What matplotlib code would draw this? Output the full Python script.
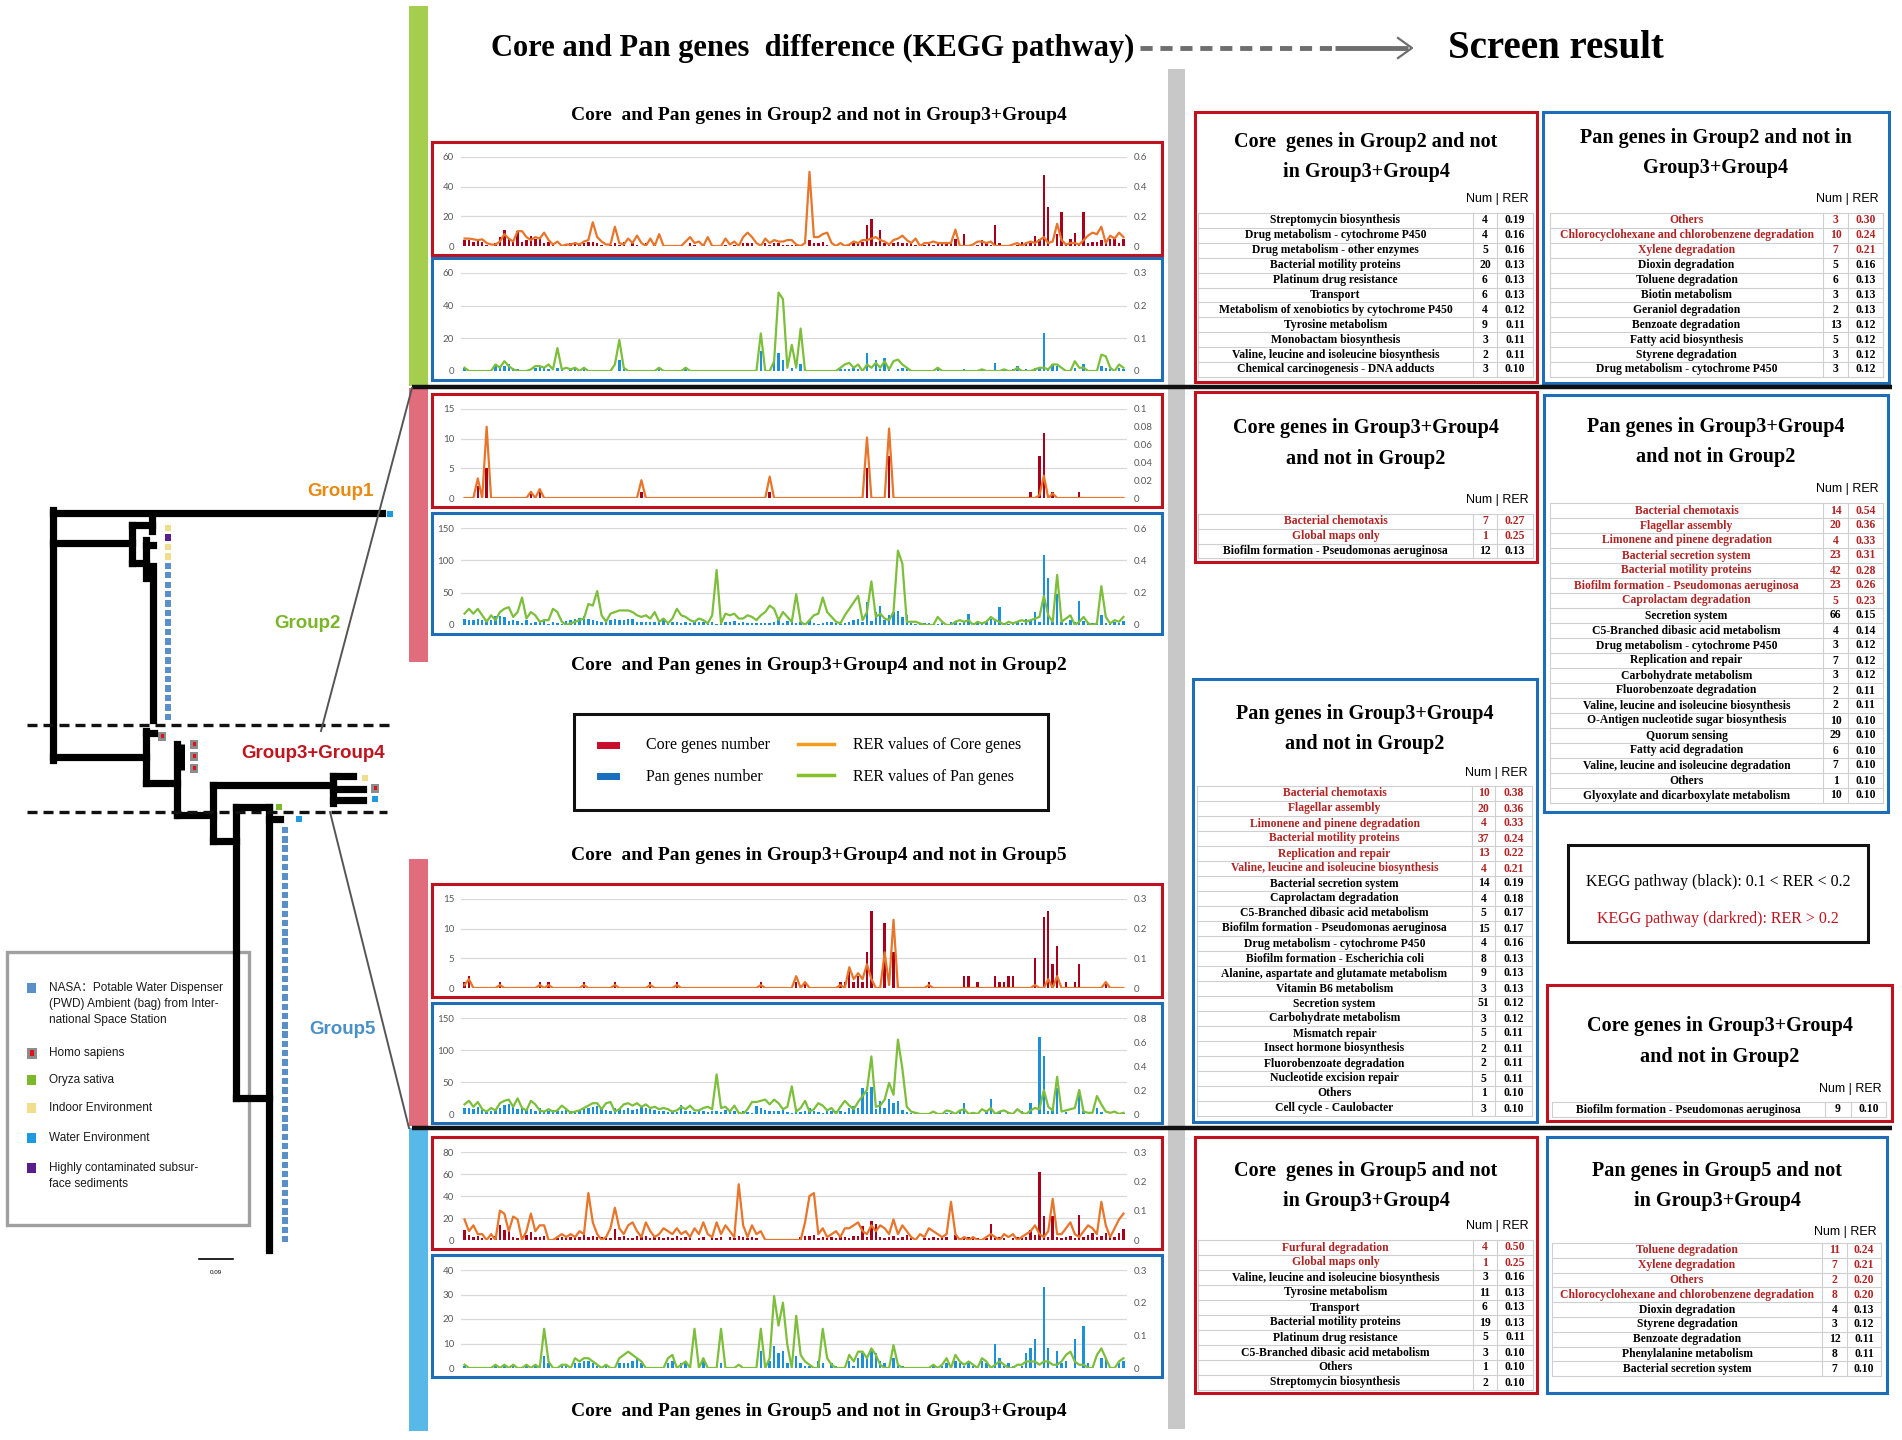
import matplotlib
matplotlib.use('Agg')
import matplotlib.pyplot as plt
from matplotlib.patches import Rectangle
import numpy as np

W, H = 1902, 1440
SERIF = ['Liberation Serif', 'DejaVu Serif']
SANS = ['Liberation Sans', 'DejaVu Sans', 'Noto Sans CJK SC']
TICKF = ['Lato', 'DejaVu Sans']
RED_TXT = '#B22222'

# ---------------- chart data (150 KEGG pathways per chart) ----------------
# RER values are stored in thousandths
g2_core_num = [4,4,3,4,3,1,0,2,6,11,5,4,10,3,4, 7,5,6,2,3,1,0,1,1,2,3,2,2,3,3,
               2,1,0,1,2,1,3,0,2,1,0,2,0,2,0, 0,0,0,0,0,0,2,1,0,1,0,0,0,0,1,
               0,1,0,2,2,2,0,0,2,1,2,2,1,1,1, 1,0,0,4,2,2,3,1,0,1,0,1,1,2,2,
               3,14,18,3,11,2,1,2,3,2,2,2,1,0,1, 2,1,2,2,2,2,5,0,8,0,0,1,4,2,1,
               14,2,1,1,0,1,3,2,2,7,5,48,26,0,8, 23,1,5,9,1,23,2,3,3,4,3,5,6,2,5]
g2_core_rer = [50,50,45,40,45,20,10,10,30,80,50,30,100,100,60, 40,60,50,90,40,10,30,0,10,10,20,10,30,40,160,
               60,30,10,10,130,20,10,50,20,70,20,0,50,0,80, 0,0,0,0,0,30,60,20,30,0,60,0,0,0,50,
               10,30,0,60,90,60,20,0,50,20,40,30,30,40,40, 10,0,20,500,60,60,80,90,20,0,20,0,10,30,20,
               40,40,50,60,40,30,10,40,50,70,40,20,50,0,20, 20,30,20,20,20,20,110,0,0,0,10,30,30,20,30,
               0,0,0,0,10,20,0,20,30,20,40,60,20,30,150, 40,10,20,20,10,40,70,90,80,130,20,70,50,90,60]
g2_pan_num = [2,0,0,0,0,0,0,3,2,3,4,2,1,0,0, 0,2,3,2,1,0,2,1,0,1,1,0,1,0,0,
              0,0,0,0,0,7,1,0,0,0,0,0,0,0,1, 0,0,0,0,0,1,0,0,0,0,0,0,0,0,0,
              0,0,0,0,0,0,0,12,0,0,6,11,7,0,2, 0,4,0,0,0,0,0,0,0,0,1,1,1,2,1,
              0,11,0,7,1,8,2,0,1,2,1,0,0,0,0, 0,0,2,0,0,0,0,0,1,0,0,0,1,0,0,
              5,0,1,0,1,3,0,1,0,2,2,23,2,4,3, 0,0,0,2,0,4,0,0,0,3,2,1,0,2,1]
g2_pan_rer = [10,0,0,0,0,0,0,20,10,30,15,5,0,0,0, 5,15,15,10,20,5,70,5,10,5,10,0,10,0,0,
              0,0,0,0,20,95,10,0,0,0,0,0,0,0,10, 0,0,0,0,0,10,0,0,0,0,0,0,0,0,0,
              0,0,0,0,0,0,0,115,0,0,30,240,220,10,80, 10,130,0,0,0,0,0,0,0,0,10,20,25,10,20,
              0,20,10,25,10,30,5,30,35,20,10,0,0,0,0, 0,0,10,0,0,0,0,0,0,0,0,0,5,0,0,
              0,0,5,0,0,10,0,0,0,5,10,10,5,20,20, 10,0,0,30,10,10,0,0,0,50,45,10,0,20,10]

g34_core_num = [0,0,0,2,0,5,0,0,0,0,0,0,0,0,0, 1,0,1,0,0,0,0,0,0,0,0,0,0,0,0,
                0,0,0,0,0,0,0,0,0,0,1,0,0,0,0, 0,0,0,0,0,0,0,0,0,0,0,0,0,0,0,
                0,0,0,0,0,0,0,0,0,1,0,0,0,0,0, 0,0,0,0,0,0,0,0,0,0,0,0,0,0,0,
                0,5,0,0,0,0,7,0,0,0,0,0,0,0,0, 0,0,0,0,0,0,0,0,0,0,0,0,0,0,0,
                0,0,0,0,0,0,0,0,1,0,7,11,0,1,0, 0,0,0,0,1,0,0,0,0,0,0,0,0,0,0]
g34_core_rer = [0,0,0,22,0,80,0,0,0,0,0,0,0,0,0, 7,0,10,0,0,0,0,0,0,0,0,0,0,0,0,
                0,0,0,0,0,0,0,0,0,0,20,0,0,0,0, 0,0,0,0,0,0,0,0,0,0,0,0,0,0,0,
                0,0,0,0,0,0,0,0,0,24,0,0,0,0,0, 0,0,0,0,0,0,0,0,0,0,0,0,0,0,0,
                0,68,0,0,0,0,78,0,0,0,0,0,0,0,0, 0,0,0,0,0,0,0,0,0,0,0,0,0,0,0,
                0,0,0,0,0,0,0,0,0,0,3,25,0,5,0, 0,0,0,0,0,0,0,0,0,0,0,0,0,0,0]
g34_pan_num = [9,8,7,9,8,5,7,14,14,12,6,8,6,3,8, 3,5,4,6,2,5,3,2,6,8,10,11,14,9,7,
               6,4,9,7,9,8,7,9,9,5,5,4,5,5,5, 9,4,4,5,3,5,3,4,4,5,4,4,2,5,5,
               4,6,3,5,3,3,3,3,3,3,4,9,3,6,5, 3,5,3,8,3,2,3,4,5,3,2,3,4,8,10,
               5,35,6,20,30,8,15,20,22,13,16,3,2,3,3, 3,2,2,3,2,4,6,3,4,17,3,5,3,6,9,
               7,28,3,2,2,5,3,9,7,20,5,108,73,4,48, 5,3,8,4,37,6,5,3,4,15,3,5,4,3,6]
g34_pan_rer = [70,100,70,100,60,20,60,30,80,100,110,50,80,170,40, 80,60,20,30,30,100,80,20,0,10,20,30,40,130,120,
               210,60,20,70,80,90,90,90,80,60,50,60,40,80,20, 40,10,40,100,60,50,30,20,40,30,10,60,340,10,70,
               60,70,40,40,60,50,30,60,80,120,100,30,80,50,20, 190,20,0,30,60,70,170,80,50,20,10,60,100,140,180,
               30,80,270,50,70,40,30,80,460,380,20,20,20,10,0, 0,0,50,20,0,0,20,30,20,30,0,20,10,20,50,
               30,20,0,20,10,20,30,20,30,40,50,180,60,20,310, 20,40,60,0,20,50,10,0,10,240,50,10,30,20,50]

g34n5_core_num = [1,2,0,0,0,0,0,0,1,0,0,0,0,0,0, 0,0,1,0,1,0,0,0,0,0,0,0,1,0,0,
                  0,0,0,0,1,0,0,0,0,0,0,0,1,0,0, 0,0,0,1,0,0,0,0,0,0,0,0,0,0,0,
                  0,0,0,0,0,0,0,1,0,0,0,0,0,0,0, 1,0,1,0,0,0,0,0,0,0,1,1,3,1,2,
                  1,6,13,0,0,11,0,6,0,0,0,0,0,0,0, 1,0,0,0,0,0,0,0,2,2,0,1,0,0,0,
                  2,1,1,2,2,0,0,0,0,5,0,12,13,4,7, 0,1,0,1,4,0,0,0,0,0,1,0,0,0,0]
g34n5_core_rer = [10,30,0,0,0,0,0,0,10,0,0,0,0,0,0, 0,0,10,0,10,0,0,0,0,0,0,0,10,0,0,
                  0,0,0,0,10,0,0,0,0,0,0,0,10,0,0, 0,0,0,10,0,0,0,0,0,0,0,0,0,0,0,
                  0,0,0,0,0,0,0,10,0,0,0,0,0,0,0, 40,0,20,0,0,0,0,0,0,0,10,0,70,30,50,
                  30,80,30,0,0,120,10,230,0,0,0,0,0,0,0, 10,0,0,0,0,0,0,0,0,0,0,0,0,0,0,
                  0,0,0,0,0,0,0,0,0,10,0,0,30,0,40, 0,0,0,0,0,0,0,0,0,0,20,0,0,0,0]
g34n5_pan_num = [10,9,8,11,6,3,4,7,10,14,16,13,8,9,6, 8,5,9,3,4,6,5,4,7,4,3,6,8,10,11,
                 12,9,6,4,9,8,6,10,7,8,12,9,8,6,5, 4,3,4,3,14,5,4,3,5,4,3,5,4,3,6,
                 4,5,3,4,3,2,12,10,6,5,5,4,6,3,2, 8,3,5,10,4,3,2,6,4,5,5,3,9,12,10,
                 40,35,42,8,20,10,24,17,21,6,3,2,1,0,1, 0,0,0,0,2,1,0,6,17,0,3,0,0,5,24,
                 0,3,0,2,0,0,5,2,17,0,120,90,5,10,40, 0,3,0,0,36,5,0,0,10,3,0,0,0,1,2]
g34n5_pan_rer = [80,110,60,100,40,20,50,30,90,110,120,60,130,50,30, 110,80,30,20,40,20,30,70,40,10,20,30,50,70,90,
                 90,40,90,100,20,40,80,90,70,90,60,80,50,60,40, 50,40,20,30,60,40,70,30,30,50,60,40,330,50,60,
                 20,70,10,0,40,100,100,110,120,80,120,90,40,60,230, 20,50,110,20,40,90,70,30,50,0,60,110,70,40,100,
                 150,200,480,60,70,120,260,160,620,380,60,20,10,0,0, 0,20,0,0,30,20,0,30,40,0,10,0,40,20,50,
                 0,20,30,10,0,40,10,0,30,50,40,200,60,30,310, 20,30,40,50,200,20,10,10,150,80,20,10,20,0,10]

g5_core_num = [9,5,3,4,2,0,2,4,14,9,10,3,2,4,5, 7,3,3,4,0,0,2,3,2,3,4,3,5,3,4,
               3,3,3,2,10,3,4,2,2,4,3,4,2,3,3, 2,3,2,4,2,3,2,0,2,3,0,3,2,3,0,
               3,2,4,3,2,3,2,0,0,0,0,0,0,0,0, 0,3,4,4,5,2,3,2,3,2,3,3,2,4,4,
               13,3,17,15,3,2,3,4,2,3,5,2,0,0,2, 2,3,2,4,3,0,5,2,3,3,2,2,0,2,15,
               2,3,2,0,2,3,2,3,9,5,62,22,3,22,3, 2,3,4,2,23,3,5,6,3,4,6,5,3,6,10]
g5_core_rer = [70,30,50,20,20,0,20,0,100,90,30,80,70,0,30, 90,30,50,50,0,0,10,20,10,20,10,30,20,160,60,
               20,0,10,40,110,40,20,50,60,30,10,60,30,10,20, 40,30,20,40,20,30,10,40,20,60,20,10,60,20,50,
               30,10,190,50,10,50,20,30,0,0,0,0,0,0,0, 0,0,60,150,160,20,40,10,20,30,10,40,40,50,60,
               30,20,50,30,50,40,20,70,20,50,30,10,0,20,10, 40,30,20,10,20,130,20,0,10,0,10,0,0,10,20,
               10,0,20,10,20,0,10,20,30,50,20,10,30,140,20, 20,40,60,20,10,30,50,40,20,130,50,10,40,70,90]
g5_pan_num = [1,0,0,0,0,0,0,1,0,1,0,1,0,0,1, 0,1,0,5,2,0,0,1,1,0,2,2,3,3,2,
              1,0,1,0,0,2,2,2,3,4,2,0,0,0,0, 0,2,3,0,2,2,0,0,0,3,0,0,0,2,0,
              0,0,0,0,0,0,0,7,0,3,9,6,7,2,0, 5,2,1,1,0,3,2,0,2,1,0,0,3,1,4,
              6,4,7,6,3,2,0,4,1,1,0,0,0,0,0, 0,1,0,1,2,0,3,2,1,2,1,0,3,2,0,
              10,4,1,2,1,0,1,6,8,12,0,33,8,0,7, 2,3,0,12,0,17,2,0,0,4,4,0,0,2,3]
g5_pan_rer = [10,0,0,0,0,0,0,10,0,10,0,10,0,0,10, 0,10,0,120,20,0,0,10,10,0,30,20,30,30,20,
              10,0,10,0,0,30,40,50,40,30,20,0,0,0,0, 0,30,40,0,10,20,0,120,0,30,0,0,0,120,0,
              0,0,10,0,0,0,0,120,0,30,220,130,200,70,0, 160,40,20,10,0,0,120,30,10,0,0,0,40,20,50,
              50,30,60,40,10,0,0,70,10,0,0,0,0,0,0, 0,10,0,10,30,0,40,20,10,20,10,0,30,20,0,
              10,20,10,0,0,10,10,20,20,20,10,20,20,10,10, 20,40,50,20,10,10,0,0,40,60,30,0,0,20,30]

# ---------------- table data ----------------
tA_names = ['Streptomycin biosynthesis', 'Drug metabolism - cytochrome P450', 'Drug metabolism - other enzymes',
            'Bacterial motility proteins', 'Platinum drug resistance', 'Transport',
            'Metabolism of xenobiotics by cytochrome P450', 'Tyrosine metabolism', 'Monobactam biosynthesis',
            'Valine, leucine and isoleucine biosynthesis', 'Chemical carcinogenesis - DNA adducts']
tA_num = [4, 4, 5, 20, 6, 6, 4, 9, 3, 2, 3]
tA_rer = [0.19, 0.16, 0.16, 0.13, 0.13, 0.13, 0.12, 0.11, 0.11, 0.11, 0.10]

tB_names = ['Others', 'Chlorocyclohexane and chlorobenzene degradation', 'Xylene degradation', 'Dioxin degradation',
            'Toluene degradation', 'Biotin metabolism', 'Geraniol degradation', 'Benzoate degradation',
            'Fatty acid biosynthesis', 'Styrene degradation', 'Drug metabolism - cytochrome P450']
tB_num = [3, 10, 7, 5, 6, 3, 2, 13, 5, 3, 3]
tB_rer = [0.30, 0.24, 0.21, 0.16, 0.13, 0.13, 0.13, 0.12, 0.12, 0.12, 0.12]

tC_names = ['Bacterial chemotaxis', 'Global maps only', 'Biofilm formation - Pseudomonas aeruginosa']
tC_num = [7, 1, 12]
tC_rer = [0.27, 0.25, 0.13]

tD_names = ['Bacterial chemotaxis', 'Flagellar assembly', 'Limonene and pinene degradation',
            'Bacterial secretion system', 'Bacterial motility proteins', 'Biofilm formation - Pseudomonas aeruginosa',
            'Caprolactam degradation', 'Secretion system', 'C5-Branched dibasic acid metabolism',
            'Drug metabolism - cytochrome P450', 'Replication and repair', 'Carbohydrate metabolism',
            'Fluorobenzoate degradation', 'Valine, leucine and isoleucine biosynthesis',
            'O-Antigen nucleotide sugar biosynthesis', 'Quorum sensing', 'Fatty acid degradation',
            'Valine, leucine and isoleucine degradation', 'Others', 'Glyoxylate and dicarboxylate metabolism']
tD_num = [14, 20, 4, 23, 42, 23, 5, 66, 4, 3, 7, 3, 2, 2, 10, 29, 6, 7, 1, 10]
tD_rer = [0.54, 0.36, 0.33, 0.31, 0.28, 0.26, 0.23, 0.15, 0.14, 0.12, 0.12, 0.12, 0.11, 0.11,
          0.10, 0.10, 0.10, 0.10, 0.10, 0.10]

tE_names = ['Bacterial chemotaxis', 'Flagellar assembly', 'Limonene and pinene degradation',
            'Bacterial motility proteins', 'Replication and repair', 'Valine, leucine and isoleucine biosynthesis',
            'Bacterial secretion system', 'Caprolactam degradation', 'C5-Branched dibasic acid metabolism',
            'Biofilm formation - Pseudomonas aeruginosa', 'Drug metabolism - cytochrome P450',
            'Biofilm formation - Escherichia coli', 'Alanine, aspartate and glutamate metabolism',
            'Vitamin B6 metabolism', 'Secretion system', 'Carbohydrate metabolism', 'Mismatch repair',
            'Insect hormone biosynthesis', 'Fluorobenzoate degradation', 'Nucleotide excision repair',
            'Others', 'Cell cycle - Caulobacter']
tE_num = [10, 20, 4, 37, 13, 4, 14, 4, 5, 15, 4, 8, 9, 3, 51, 3, 5, 2, 2, 5, 1, 3]
tE_rer = [0.38, 0.36, 0.33, 0.24, 0.22, 0.21, 0.19, 0.18, 0.17, 0.17, 0.16, 0.13, 0.13, 0.13,
          0.12, 0.12, 0.11, 0.11, 0.11, 0.11, 0.10, 0.10]

tG_names = ['Biofilm formation - Pseudomonas aeruginosa']
tG_num = [9]
tG_rer = [0.10]

tH_names = ['Furfural degradation', 'Global maps only', 'Valine, leucine and isoleucine biosynthesis',
            'Tyrosine metabolism', 'Transport', 'Bacterial motility proteins', 'Platinum drug resistance',
            'C5-Branched dibasic acid metabolism', 'Others', 'Streptomycin biosynthesis']
tH_num = [4, 1, 3, 11, 6, 19, 5, 3, 1, 2]
tH_rer = [0.50, 0.25, 0.16, 0.13, 0.13, 0.13, 0.11, 0.10, 0.10, 0.10]

tI_names = ['Toluene degradation', 'Xylene degradation', 'Others', 'Chlorocyclohexane and chlorobenzene degradation',
            'Dioxin degradation', 'Styrene degradation', 'Benzoate degradation', 'Phenylalanine metabolism',
            'Bacterial secretion system']
tI_num = [11, 7, 2, 8, 4, 3, 12, 8, 7]
tI_rer = [0.24, 0.21, 0.20, 0.20, 0.13, 0.12, 0.11, 0.11, 0.10]

# ---------------- figure ----------------
fig = plt.figure(figsize=(W / 100, H / 100), dpi=100)
bg = fig.add_axes([0, 0, 1, 1])
bg.set_xlim(0, W)
bg.set_ylim(H, 0)
bg.axis('off')


def rect(x0, y0, x1, y1, color, lw=None, fill=False):
    if fill:
        bg.add_patch(Rectangle((x0, y0), x1 - x0, y1 - y0, facecolor=color, edgecolor='none'))
    else:
        bg.add_patch(Rectangle((x0, y0), x1 - x0, y1 - y0, fill=False, edgecolor=color, linewidth=lw))


def chart(y0, y1, nums, rers, bar_c, line_c, frame_c, lticks, rticks):
    rect(432, y0, 1162, y1, frame_c, 2.2)
    top, bot = y0 + 15, y1 - 9
    ax = fig.add_axes([461 / W, 1 - bot / H, (1127 - 461) / W, (bot - top) / H])
    x = np.arange(len(nums))
    ax.bar(x, nums, width=0.55, color=bar_c, zorder=2)
    ax.set_xlim(-0.8, len(nums) - 0.2)
    ax.set_ylim(0, lticks[-1])
    ax.set_yticks(lticks)
    ax.set_xticks([])
    ax.grid(axis='y', color='#D9D9D9', lw=0.9)
    ax.set_axisbelow(True)
    ax.patch.set_visible(False)
    ax2 = ax.twinx()
    ax2.plot(x, np.array(rers) / 1000, color=line_c, lw=1.6, zorder=3)
    ax2.set_ylim(0, rticks[-1])
    ax2.set_yticks(rticks)
    ax2.set_yticklabels(['0' if v == 0 else f'{v:g}' for v in rticks])
    for a in (ax, ax2):
        for s in a.spines.values():
            s.set_visible(False)
        a.tick_params(axis='y', length=0, labelsize=7, labelcolor='#595959', pad=5)
        for t in a.get_yticklabels():
            t.set_family(TICKF)


def table(x0, x1, y0, y1, frame_c, title, tys, hy, cols, ry0, rh, names, nums, rers):
    rect(x0, y0, x1, y1, frame_c, 2.2)
    xc = (x0 + x1) / 2
    for t, ty in zip(title, tys):
        bg.text(xc, ty, t, ha='center', va='center', fontsize=14.5, fontweight='bold', family=SERIF)
    bg.text(cols[3] - 4, hy, 'Num | RER', ha='right', va='center', fontsize=9, family=SANS)
    n = len(names)
    yb = ry0 + n * rh
    for k in range(n + 1):
        bg.plot([cols[0], cols[3]], [ry0 + k * rh] * 2, color='#CFCFCF', lw=0.8)
    for cx in cols:
        bg.plot([cx, cx], [ry0, yb], color='#CFCFCF', lw=0.8)
    for k, (nm, nu, r) in enumerate(zip(names, nums, rers)):
        yc = ry0 + (k + 0.5) * rh
        c = RED_TXT if r >= 0.195 else 'black'
        kw = dict(ha='center', va='center', fontsize=8.4, fontweight='bold', family=SERIF, color=c)
        bg.text((cols[0] + cols[1]) / 2, yc, nm, **kw)
        bg.text((cols[1] + cols[2]) / 2, yc, str(nu), **kw)
        bg.text((cols[2] + cols[3]) / 2, yc, f'{r:.2f}', **kw)


# coloured side bars and separators
rect(409, 6, 428, 386, '#A6CE4E', fill=True)
rect(409, 388, 428, 662, '#E06C7C', fill=True)
rect(409, 859, 428, 1126, '#E06C7C', fill=True)
rect(409, 1128, 428, 1431, '#58B9E8', fill=True)
rect(1168, 69, 1185, 1429, '#C8C8C8', fill=True)
bg.plot([412, 1892], [387, 387], color='#111111', lw=3.2, solid_capstyle='butt')
bg.plot([412, 1892], [1128, 1128], color='#111111', lw=3.2, solid_capstyle='butt')

# headings
bg.text(813, 48, 'Core and Pan genes  difference (KEGG pathway)', ha='center', va='center',
        fontsize=22, fontweight='bold', family=SERIF)
bg.plot([1140, 1335], [48, 48], color='#6E6E6E', lw=3.5, linestyle=(0, (2.5, 1.6)))
bg.plot([1335, 1408], [48, 48], color='#6E6E6E', lw=3.5, solid_capstyle='butt')
bg.plot([1398, 1412, 1398], [38, 48, 58], color='#6E6E6E', lw=1.6)
bg.text(1556, 48, 'Screen result', ha='center', va='center', fontsize=28, fontweight='bold', family=SERIF)

sub_kw = dict(ha='center', va='center', fontsize=14, fontweight='bold', family=SERIF)
bg.text(819, 116, 'Core  and Pan genes in Group2 and not in Group3+Group4', **sub_kw)
bg.text(819, 666, 'Core  and Pan genes in Group3+Group4 and not in Group2', **sub_kw)
bg.text(819, 855, 'Core  and Pan genes in Group3+Group4 and not in Group5', **sub_kw)
bg.text(819, 1412, 'Core  and Pan genes in Group5 and not in Group3+Group4', **sub_kw)

CORE_BAR, PAN_BAR = '#A8001C', '#1C90D8'
CORE_LINE, PAN_LINE = '#E87529', '#7DBE3A'
RED_F, BLUE_F = '#C0121E', '#1D6DB8'

chart(142, 255, g2_core_num, g2_core_rer, CORE_BAR, CORE_LINE, RED_F, [0, 20, 40, 60], [0, 0.2, 0.4, 0.6])
chart(258, 380, g2_pan_num, g2_pan_rer, PAN_BAR, PAN_LINE, BLUE_F, [0, 20, 40, 60], [0, 0.1, 0.2, 0.3])
chart(394, 507, g34_core_num, g34_core_rer, CORE_BAR, CORE_LINE, RED_F, [0, 5, 10, 15],
      [0, 0.02, 0.04, 0.06, 0.08, 0.1])
chart(513, 634, g34_pan_num, g34_pan_rer, PAN_BAR, PAN_LINE, BLUE_F, [0, 50, 100, 150], [0, 0.2, 0.4, 0.6])
chart(884, 997, g34n5_core_num, g34n5_core_rer, CORE_BAR, CORE_LINE, RED_F, [0, 5, 10, 15], [0, 0.1, 0.2, 0.3])
chart(1003, 1123, g34n5_pan_num, g34n5_pan_rer, PAN_BAR, PAN_LINE, BLUE_F, [0, 50, 100, 150],
      [0, 0.2, 0.4, 0.6, 0.8])
chart(1137, 1249, g5_core_num, g5_core_rer, CORE_BAR, CORE_LINE, RED_F, [0, 20, 40, 60, 80], [0, 0.1, 0.2, 0.3])
chart(1255, 1377, g5_pan_num, g5_pan_rer, PAN_BAR, PAN_LINE, BLUE_F, [0, 10, 20, 30, 40], [0, 0.1, 0.2, 0.3])

# chart legend
rect(574, 714, 1048, 810, '#111111', 2.2)
rect(597, 742, 620, 749, '#C8102E', fill=True)
rect(597, 773, 620, 780, '#1A6FBF', fill=True)
bg.plot([798, 834], [744, 744], color='#F39C1E', lw=2.5)
bg.plot([798, 834], [775, 775], color='#84C225', lw=2.5)
leg_kw = dict(ha='left', va='center', fontsize=11.5, family=SERIF)
bg.text(646, 745, 'Core genes number', **leg_kw)
bg.text(646, 777, 'Pan genes number', **leg_kw)
bg.text(853, 745, 'RER values of Core genes', **leg_kw)
bg.text(853, 777, 'RER values of Pan genes', **leg_kw)

# tables
table(1195, 1537, 112, 382, RED_F, ['Core  genes in Group2 and not', 'in Group3+Group4'], [142, 172], 199,
      [1198, 1473, 1497, 1533], 213, 14.9, tA_names, tA_num, tA_rer)
table(1543, 1889, 112, 383, BLUE_F, ['Pan genes in Group2 and not in', 'Group3+Group4'], [138, 168], 199,
      [1550, 1823, 1848, 1883], 213, 14.9, tB_names, tB_num, tB_rer)
table(1195, 1537, 392, 562, RED_F, ['Core genes in Group3+Group4', 'and not in Group2'], [428, 459], 500,
      [1198, 1473, 1497, 1533], 514, 14.8, tC_names, tC_num, tC_rer)
table(1544, 1888, 395, 812, BLUE_F, ['Pan genes in Group3+Group4', 'and not in Group2'], [427, 457], 489,
      [1550, 1823, 1848, 1883], 503, 15.0, tD_names, tD_num, tD_rer)
table(1193, 1537, 679, 1122, BLUE_F, ['Pan genes in Group3+Group4', 'and not in Group2'], [714, 744], 773,
      [1197, 1472, 1495, 1532], 786, 15.0, tE_names, tE_num, tE_rer)
table(1547, 1892, 985, 1121, RED_F, ['Core genes in Group3+Group4', 'and not in Group2'], [1026, 1057], 1089,
      [1552, 1825, 1851, 1886], 1102, 15.0, tG_names, tG_num, tG_rer)
table(1195, 1537, 1137, 1393, RED_F, ['Core  genes in Group5 and not', 'in Group3+Group4'], [1171, 1201], 1226,
      [1198, 1473, 1497, 1533], 1240, 15.0, tH_names, tH_num, tH_rer)
table(1547, 1887, 1137, 1393, BLUE_F, ['Pan genes in Group5 and not', 'in Group3+Group4'], [1171, 1201], 1232,
      [1552, 1822, 1847, 1881], 1243, 14.8, tI_names, tI_num, tI_rer)

# RER colour note
rect(1568, 845, 1868, 942, '#111111', 2.2)
bg.text(1718, 882, 'KEGG pathway (black): 0.1 < RER < 0.2', ha='center', va='center', fontsize=11.5, family=SERIF)
bg.text(1718, 919, 'KEGG pathway (darkred): RER > 0.2', ha='center', va='center', fontsize=11.5,
        family=SERIF, color='#C0121E')

# ---------------- phylogenetic tree ----------------
tree_segments = [
    ((53, 513), (382, 513)), ((53, 510), (53, 760)), ((53, 543), (132, 543)),
    ((132, 525), (132, 563)), ((132, 525), (152, 525)), ((152, 519), (152, 531)),
    ((132, 563), (146, 563)), ((146, 540), (146, 578)), ((146, 545), (153, 545)),
    ((153, 566), (153, 720)),
    ((53, 757), (146, 757)), ((146, 731), (146, 783)), ((146, 733), (154, 733)),
    ((146, 783), (177, 783)), ((177, 744), (177, 815)), ((177, 815), (213, 815)),
    ((213, 785), (213, 841)), ((213, 785), (333, 785)), ((333, 776), (333, 803)),
    ((333, 776), (353, 776)), ((333, 789), (363, 789)), ((333, 800), (363, 800)),
    ((213, 841), (236, 841)), ((236, 807), (236, 1098)), ((236, 807), (269, 807)),
    ((269, 807), (269, 1250)), ((269, 819), (280, 819)), ((236, 1098), (269, 1098)),
]
for (xa, ya), (xb, yb) in tree_segments:
    bg.plot([xa, xb], [ya, yb], color='black', lw=5.2, solid_capstyle='projecting')
bg.plot([180, 180], [744, 770], color='black', lw=6.5, solid_capstyle='butt')

bg.plot([27, 392], [725, 725], color='#111111', lw=2.4, linestyle=(0, (3, 1.8)))
bg.plot([27, 387], [812, 812], color='#111111', lw=2.4, linestyle=(0, (3, 1.8)))
bg.plot([412, 321], [388, 731], color='#555555', lw=1.4)
bg.plot([330, 409], [812, 1128], color='#555555', lw=1.4)

SRC = {'nasa': '#5B8FC8', 'water': '#1E9BE0', 'indoor': '#F1DE8C', 'contam': '#5A1E8C', 'oryza': '#7CB92A'}


def sample(x, y, kind):
    if kind == 'homo':
        rect(x - 4, y - 4.5, x + 4, y + 4.5, '#8C8C8C', fill=True)
        rect(x - 1.5, y - 2, x + 1.5, y + 2, '#E0101A', fill=True)
    else:
        rect(x - 3, y - 3.2, x + 3, y + 3.2, SRC[kind], fill=True)


g2_samples = ['indoor', 'contam', 'indoor', 'indoor'] + ['nasa'] * 17
for k, kind in enumerate(g2_samples):
    sample(168, 528 + k * 9.45, kind)
for k in range(45):
    sample(285, 830 + k * 9.3, 'nasa')
for (x, y, kind) in [(390, 514, 'water'), (162, 736, 'homo'), (194, 744, 'homo'), (194, 756, 'homo'),
                     (194, 768, 'homo'), (365, 778, 'indoor'), (375, 788, 'homo'), (375, 799, 'water'),
                     (279, 807, 'oryza'), (299, 819, 'water')]:
    sample(x, y, kind)

grp_kw = dict(ha='center', va='center', fontsize=13.5, fontweight='bold', family=SANS)
bg.text(340, 492, 'Group1', color='#E88A12', **grp_kw)
bg.text(307, 623, 'Group2', color='#7AB628', **grp_kw)
bg.text(313, 753, 'Group3+Group4', color='#C0141E', **grp_kw)
bg.text(342, 1029, 'Group5', color='#4A90C8', **grp_kw)

# source legend
rect(7, 952, 249, 1225, '#A0A0A0', 2.4)
src_items = [('nasa', 988, ['NASA：Potable Water Dispenser', '(PWD) Ambient (bag) from Inter-',
                            'national Space Station']),
             ('homo', 1053, ['Homo sapiens']), ('oryza', 1080, ['Oryza sativa']),
             ('indoor', 1108, ['Indoor Environment']), ('water', 1138, ['Water Environment']),
             ('contam', 1168, ['Highly contaminated subsur-', 'face sediments'])]
for kind, y, lines in src_items:
    if kind == 'homo':
        rect(27, y - 5.5, 37, y + 5.5, '#8C8C8C', fill=True)
        rect(30, y - 3, 34, y + 3, '#E0101A', fill=True)
    else:
        rect(27, y - 5, 36, y + 5, SRC[kind], fill=True)
    for j, ln in enumerate(lines):
        bg.text(49, y + j * 16, ln, ha='left', va='center', fontsize=8.5, family=SANS, color='#1A1A1A')

bg.plot([199, 233], [1259, 1259], color='black', lw=1.2)
bg.text(216, 1273, '0.09', ha='center', va='center', fontsize=4.5, family=SANS)

fig.savefig('out.png', dpi=100)
